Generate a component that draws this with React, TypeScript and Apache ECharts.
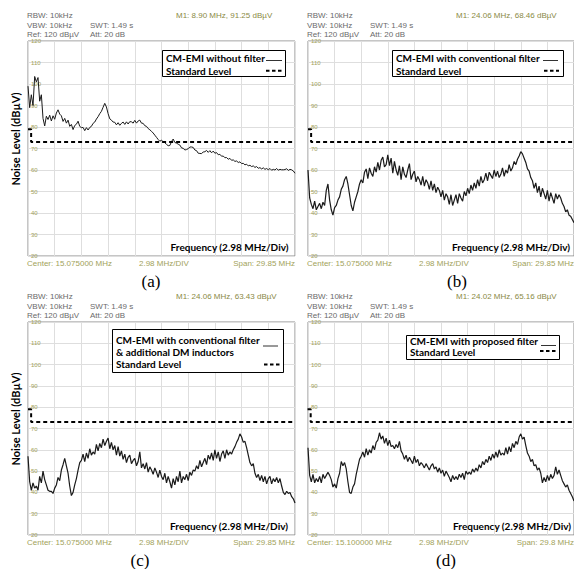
import React, { useEffect, useRef } from "react";
import * as echarts from "echarts";

// Measured trace levels (dBµV), sweep points evenly spaced from start to stop frequency
const levelA = [
  99, 89, 95, 90, 103.5, 101, 103, 92, 95, 84,
  80.5, 85, 83.5, 85.5, 82.8, 85.2, 83.6, 86.5, 88, 86,
  85.2, 82.6, 84, 81.8, 83.2, 80.3, 81.2, 78.8, 80.7, 81.3,
  82.7, 80.3, 79.7, 79.8, 78.3, 79.7, 78.6, 79.8, 80.3, 81.7,
  82.3, 83.7, 84.8, 86.2, 87.3, 89.2, 91, 89.3, 86.2, 83.8,
  83.2, 82.3, 82.2, 81, 82, 80.8, 81.7, 82.3, 81.2, 82.4,
  81.4, 82.5, 82.4, 81.8, 83.1, 81.8, 82.8, 83.2, 81.8, 81.7,
  80.6, 80.3, 79.3, 78.7, 78, 77.2, 76.2, 75.2, 74.2, 73.4,
  73.9, 73.1, 72.7, 71.9, 71.3, 71.4, 73.2, 74.4, 72.8, 72.5,
  72, 71.6, 70.3, 70.1, 69.3, 69.5, 69.9, 70.7, 70.7, 70.5,
  69.3, 69, 67.8, 67.7, 67.6, 68.4, 68.5, 69.1, 68.2, 69,
  68, 68.8, 67.8, 68.1, 67.1, 67.3, 66.4, 66.5, 65.7, 65.8,
  65, 65.4, 64.5, 64.7, 64, 64.2, 63.5, 63.8, 63, 63.1,
  62.4, 62.7, 61.9, 62.2, 61.6, 61.9, 61.2, 61.6, 60.8, 61.1,
  60.5, 61, 60.3, 60.7, 60.1, 60.7, 59.9, 60.3, 60, 60.7,
  59.9, 60.3, 60.1, 60.1, 60.2, 60.6, 59.8, 60.3, 60.1, 59.5,
  58.5,
];
const levelB = [
  60, 47, 44, 42, 45.5, 41.5, 43, 44.5, 42, 45,
  43.5, 50.5, 53.5, 46, 41.5, 39, 42.5, 43.5, 46, 47.5,
  51, 52.5, 55.5, 57, 53.5, 48.5, 43.5, 41, 45, 47.5,
  50, 53.5, 55.5, 54, 59, 60.5, 56, 61, 58.5, 57,
  61.5, 59, 63.5, 60, 64.5, 66, 61.5, 62.5, 67, 62,
  65.5, 58.5, 64, 60, 57.5, 62, 55.5, 61.5, 58, 56.5,
  60, 63, 55.5, 58, 59.5, 54.5, 57, 55.5, 53, 57,
  52.5, 55.5, 54, 51, 55, 50.5, 53.5, 49.5, 52, 50.5,
  47.5, 50.5, 46, 49, 47.5, 44, 48.5, 43.5, 46, 48.5,
  44.5, 49, 47, 45.5, 50, 48, 51.5, 49, 53, 50.5,
  54, 51.5, 55.5, 52.5, 57, 54, 55.5, 58.5, 55, 59,
  57.5, 56, 60, 57, 59.5, 56.5, 58, 61, 57, 60,
  58.5, 62.5, 59.5, 61, 64, 62.5, 65, 66.5, 68.5, 67.5,
  65.5, 63.5, 60.5, 59.5, 56.5, 55, 51.5, 54, 49.5, 52.5,
  47.5, 51.5, 49, 46.5, 50.5, 45.5, 49.5, 47, 44.5, 49,
  46.5, 48.5, 47, 44.5, 43, 40.5, 41.5, 39, 38.5, 37,
  35.5,
];
const levelC = [
  57, 45, 41, 44.5, 42, 43, 41, 47.5, 44.5, 50,
  46, 43.5, 41, 40.5, 40.5, 39.5, 42, 43.5, 47, 45.5,
  50.5, 53, 56, 52.5, 49, 43, 38.5, 40, 43.5, 46.5,
  50.5, 54, 55, 58, 54.5, 58.5, 56, 60.5, 57.5, 59,
  58, 62.5, 59.5, 63, 61, 65, 62, 64, 65.5, 60.5,
  63.5, 60, 62, 57.5, 61.5, 57, 59.5, 55.5, 58, 54,
  56.5, 57.5, 53.5, 55, 56, 52.5, 54.5, 59, 51.5, 53.5,
  51, 54, 49.5, 52, 50.5, 48.5, 51.5, 49.5, 47, 50.5,
  47.5, 46, 49, 44.5, 47.5, 45, 42, 46.5, 43.5, 47.5,
  45, 50, 44.5, 47.5, 46, 48.5, 45.5, 49.5, 48, 50.5,
  50, 52.5, 51, 55, 52, 54, 56, 53, 57.5, 55.5,
  58.5, 55, 60, 56, 59, 54.5, 58, 59.5, 56, 60,
  57.5, 59, 58, 60, 61.5, 63.5, 65, 67.5, 66, 63.5,
  64, 61, 57.5, 54, 52.5, 53.5, 49, 47, 48.5, 45.5,
  48, 45, 47.5, 44, 46.5, 47.5, 44, 46.5, 45, 47,
  44.5, 46.5, 43, 40, 39, 40.5, 39.5, 40, 38, 37,
  35,
];
const levelD = [
  61, 48, 45, 48.5, 44.5, 46.5, 45, 47.5, 44.5, 48.5,
  46.5, 48, 49.5, 48, 46, 42.5, 44, 42, 46.5, 49,
  54.5, 52.5, 54, 51, 45, 40, 39.5, 42.5, 44, 48.5,
  52, 55.5, 57, 59, 56.5, 60.5, 57.5, 60, 58.5, 62,
  60, 63.5, 64.5, 68, 65, 66.5, 63, 65.5, 62, 64.5,
  61.5, 62, 60.5, 62.5, 61, 64, 59.5, 58, 55.5, 57.5,
  54.5, 56.5, 55, 53.5, 57, 54, 55.5, 52.5, 54, 53,
  51.5, 53.5, 52, 50.5, 52.5, 53.5, 51, 52, 49.5, 51.5,
  49, 50.5, 47.5, 50, 48.5, 47, 45, 48, 46, 47.5,
  46, 48.5, 47, 49, 46, 50, 48.5, 49.5, 48.5, 51,
  49.5, 51.5, 50, 53, 51.5, 54.5, 53, 55.5, 54, 57,
  55, 58, 56, 59, 56.5, 60, 57.5, 58.5, 57.5, 61,
  58, 61.5, 59, 63, 61, 64, 62.5, 66, 67.5, 65,
  66, 62, 58.5, 57, 54.5, 55.5, 52.5, 53, 50.5, 51.5,
  49, 44.5, 47, 45, 48, 45.5, 48.5, 46.5, 48, 52,
  48.5, 50.5, 48, 45.5, 44, 42.5, 43.5, 41, 39.5, 38,
  36,
];
const traces = [levelA, levelB, levelC, levelD];
const startFreqs = [0.15, 0.15, 0.15, 0.2]; // MHz
const stopFreq = 30; // MHz
const limitLine = [
  [0.15, 79],
  [0.5, 79],
  [0.5, 73],
  [30, 73],
];
const yMin = 20;
const yMax = 120;
const yStep = 10;

const infoLeft = ["RBW: 10kHz", "VBW: 10kHz", "Ref: 120 dBµV"];
const infoMid = ["SWT: 1.49 s", "Att: 20 dB"];
const markerTexts = [
  "M1: 8.90 MHz, 91.25 dBµV",
  "M1: 24.06 MHz, 68.46 dBµV",
  "M1: 24.06 MHz, 63.43 dBµV",
  "M1: 24.02 MHz, 65.16 dBµV",
];
const centerTexts = [
  "Center: 15.075000 MHz",
  "Center: 15.075000 MHz",
  "Center: 15.075000 MHz",
  "Center: 15.100000 MHz",
];
const divText = "2.98 MHz/DIV";
const spanTexts = ["Span: 29.85 MHz", "Span: 29.85 MHz", "Span: 29.85 MHz", "Span: 29.8 MHz"];
const captions = ["(a)", "(b)", "(c)", "(d)"];
const legendTraceText = [
  ["CM-EMI without filter"],
  ["CM-EMI with conventional filter"],
  ["CM-EMI with conventional filter", "& additional DM inductors"],
  ["CM-EMI with proposed filter"],
];
const legendLimitText = "Standard Level";
const freqTitle = "Frequency (2.98 MHz/Div)";
const yTitle = "Noise Level (dBµV)";

// Layout (pixels)
const plots = [
  { left: 28, top: 41, width: 267, height: 215 },
  { left: 308, top: 41, width: 266, height: 215 },
  { left: 28, top: 322, width: 267, height: 213 },
  { left: 308, top: 322, width: 266, height: 213 },
];
const traceWidths = [1, 1.2, 1.2, 1.2];
const captionX = [151, 457, 140, 446];
const captionY = [281.5, 281.5, 560, 560];
const legendBoxes = [
  { x: 162, y: 50, w: 123, h: 26, rows: [57.5, 70.8], solid: [266, 282, 60.5], dash: [266, 283, 70.8] },
  { x: 392, y: 50, w: 171, h: 26, rows: [57.5, 70.8], solid: [543, 558, 60.5], dash: [544, 559, 70.8] },
  { x: 112, y: 329, w: 171, h: 43, rows: [340, 352, 364.2], solid: [263, 278, 346], dash: [264, 280, 364.5] },
  { x: 406, y: 335, w: 153, h: 24, rows: [341, 351.5], solid: [541, 556, 345.5], dash: [540, 557, 351] },
];
const freqTitleRight = [288.5, 570, 288, 571];
const yTitleY = [139, 419];

const BOLD = "bold 10px Lato";
const INFO = "8px 'Liberation Sans'";
const OLIVE = "#a2a25a";

export default function App() {
  const ref = useRef<HTMLDivElement>(null);
  useEffect(() => {
    if (!ref.current) return;
    const chart = echarts.init(ref.current, null, { renderer: "svg" });
    const grid: any[] = [];
    const xAxis: any[] = [];
    const yAxis: any[] = [];
    const series: any[] = [];
    const graphic: any[] = [];

    plots.forEach((p, k) => {
      grid.push({
        left: p.left,
        top: p.top,
        width: p.width,
        height: p.height,
        show: true,
        borderColor: "#8c8c8c",
        borderWidth: 1,
        backgroundColor: "#fff",
        containLabel: false,
      });
      xAxis.push({
        type: "value",
        gridIndex: k,
        min: startFreqs[k],
        max: stopFreq,
        show: false,
      });
      xAxis.push({
        type: "value",
        gridIndex: k,
        min: 0,
        max: 10,
        interval: 1,
        axisLine: { show: false },
        axisTick: { show: false },
        axisLabel: { show: false },
        splitLine: { show: true, lineStyle: { color: "#dedede", width: 1 } },
      });
      yAxis.push({
        type: "value",
        gridIndex: k,
        min: yMin,
        max: yMax,
        interval: yStep,
        axisLine: { show: false },
        axisTick: { show: false },
        axisLabel: {
          inside: true,
          margin: 3,
          fontSize: 6,
          color: OLIVE,
          fontFamily: "Liberation Sans",
        },
        splitLine: { show: true, lineStyle: { color: "#dedede", width: 1 } },
      });
      const f0 = startFreqs[k];
      const tr = traces[k];
      const step = (stopFreq - f0) / (tr.length - 1);
      series.push({
        type: "line",
        xAxisIndex: 2 * k,
        yAxisIndex: k,
        data: tr.map((v, i) => [f0 + i * step, v]),
        showSymbol: false,
        lineStyle: { color: "#1a1a1a", width: traceWidths[k] },
        z: 3,
      });
      series.push({
        type: "line",
        xAxisIndex: 2 * k,
        yAxisIndex: k,
        data: limitLine,
        showSymbol: false,
        lineStyle: { color: "#000", width: 2, type: [4, 3] },
        z: 4,
      });

      const bottom = p.top + p.height;
      const right = p.left + p.width;
      infoLeft.forEach((t, j) => {
        graphic.push({
          type: "text",
          x: p.left - 1,
          y: p.top + [-25.5, -16, -6.8][j],
          style: { text: t, fill: "#6a6a6a", font: INFO, verticalAlign: "middle" },
        });
      });
      infoMid.forEach((t, j) => {
        graphic.push({
          type: "text",
          x: p.left + 62,
          y: p.top + [-16, -6.8][j],
          style: { text: t, fill: "#6a6a6a", font: INFO, verticalAlign: "middle" },
        });
      });
      graphic.push({
        type: "text",
        x: p.left + 148,
        y: p.top - 25.5,
        style: { text: markerTexts[k], fill: "#8a8a45", font: INFO, verticalAlign: "middle" },
      });
      graphic.push({
        type: "text",
        x: p.left - 1,
        y: bottom + 7,
        style: { text: centerTexts[k], fill: OLIVE, font: INFO, verticalAlign: "middle" },
      });
      graphic.push({
        type: "text",
        x: p.left + 111,
        y: bottom + 7,
        style: { text: divText, fill: OLIVE, font: INFO, verticalAlign: "middle" },
      });
      graphic.push({
        type: "text",
        x: right,
        y: bottom + 7,
        style: { text: spanTexts[k], fill: OLIVE, font: INFO, align: "right", verticalAlign: "middle" },
      });
      graphic.push({
        type: "text",
        x: captionX[k],
        y: captionY[k],
        style: {
          text: captions[k],
          fill: "#000",
          font: "17px 'Liberation Serif'",
          align: "center",
          verticalAlign: "middle",
        },
      });
      graphic.push({
        type: "text",
        x: freqTitleRight[k],
        y: bottom - 8.7,
        z: 50,
        style: { text: freqTitle, fill: "#000", font: BOLD, align: "right", verticalAlign: "middle" },
      });
      const lb = legendBoxes[k];
      graphic.push({
        type: "rect",
        shape: { x: lb.x + 0.5, y: lb.y + 0.5, width: lb.w, height: lb.h },
        style: { fill: "#fff", stroke: "#000", lineWidth: 1 },
        z: 50,
      });
      const rowsText = [...legendTraceText[k], legendLimitText];
      rowsText.forEach((t, j) => {
        graphic.push({
          type: "text",
          x: lb.x + 4,
          y: lb.rows[j],
          z: 51,
          style: { text: t, fill: "#000", font: BOLD, verticalAlign: "middle" },
        });
      });
      graphic.push({
        type: "line",
        z: 51,
        shape: { x1: lb.solid[0], y1: lb.solid[2], x2: lb.solid[1], y2: lb.solid[2] },
        style: { stroke: "#333", lineWidth: 1 },
      });
      graphic.push({
        type: "line",
        z: 51,
        shape: { x1: lb.dash[0], y1: lb.dash[2], x2: lb.dash[1], y2: lb.dash[2] },
        style: { stroke: "#000", lineWidth: 2, lineDash: [3.5, 2.5] },
      });
    });

    yTitleY.forEach((yc) => {
      graphic.push({
        type: "text",
        x: 15,
        y: yc,
        rotation: Math.PI / 2,
        style: {
          text: yTitle,
          fill: "#000",
          font: "bold 11px Lato",
          align: "center",
          verticalAlign: "middle",
        },
      });
    });

    chart.setOption({
      animation: false,
      backgroundColor: "#fff",
      grid,
      xAxis,
      yAxis,
      series,
      graphic,
    });
    return () => chart.dispose();
  }, []);
  return (
    <div
      ref={ref}
      style={{ position: "absolute", left: 0, top: 0, width: 574, height: 569 }}
    />
  );
}
